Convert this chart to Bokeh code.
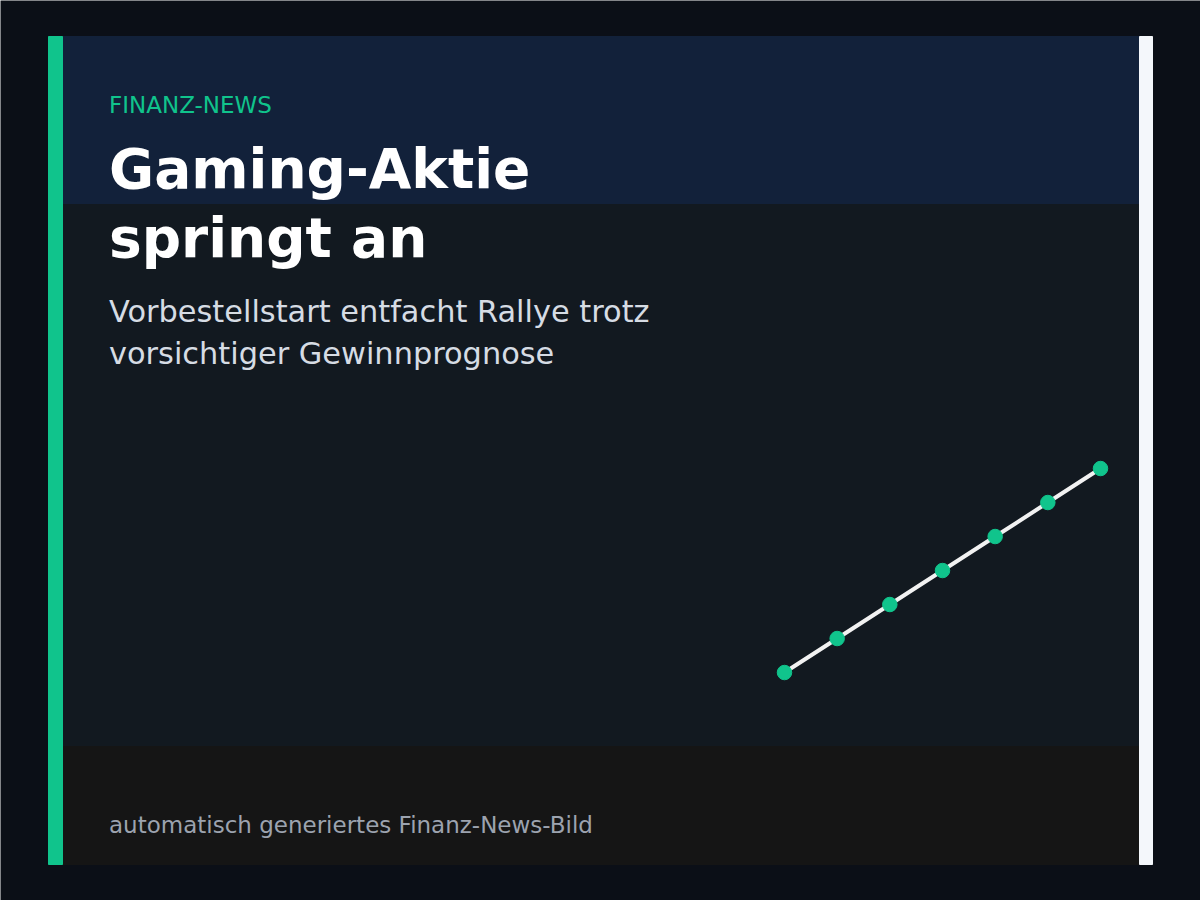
from bokeh.plotting import figure
from bokeh.models import Range1d, Label
from bokeh.embed import file_html
from bokeh.resources import INLINE

# Kursverlauf (Handelstage / Schlusskurs)
tage = [1, 2, 3, 4, 5, 6, 7]
kurs = [100, 102, 104, 106, 108, 110, 112]

kicker = "FINANZ-NEWS"
titel = ["Gaming-Aktie", "springt an"]
untertitel = ["Vorbestellstart entfacht Rallye trotz", "vorsichtiger Gewinnprognose"]
fusszeile = "automatisch generiertes Finanz-News-Bild"

BG = "#0b0f17"
GREEN = "#10c48c"

W, H = 1200, 900

# page pixels, y flipped so it grows downward like the screen
p = figure(width=W, height=H, output_backend="svg", toolbar_location=None,
           x_range=Range1d(0, W), y_range=Range1d(H, 0),
           min_border=0, background_fill_color=BG, border_fill_color=BG)
p.axis.visible = False
p.grid.visible = False
p.outline_line_color = None

# card panels
p.quad(left=48, right=1152, top=36, bottom=864, color="#121920")
p.quad(left=62, right=1139, top=36, bottom=203, color="#12213a")
p.quad(left=62, right=1139, top=746, bottom=864, color="#151515")
p.quad(left=48, right=62, top=36, bottom=864, color=GREEN)
p.quad(left=1139, right=1152, top=36, bottom=864, color="#f4f7fb")

# mini chart in its own ranges
p.extra_x_ranges["tag"] = Range1d(-13.886, 8.899)
p.extra_y_ranges["kurs"] = Range1d(86.59, 139.53)
p.line(tage, kurs, x_range_name="tag", y_range_name="kurs",
       line_color="#f2f2f2", line_width=4)
p.scatter(tage, kurs, x_range_name="tag", y_range_name="kurs",
          size=14.5, color=GREEN)

FONT = "DejaVu Sans"

def label(txt, base, size, color, style="normal"):
    # baseline lands ~0.39em below y on this flipped range
    p.add_layout(Label(x=108.5, y=base - 0.39 * size, text=txt, text_font=FONT,
                       text_font_size="%.1fpx" % size, text_color=color,
                       text_font_style=style, text_baseline="alphabetic"))

label(kicker, 113, 23, GREEN)
label(titel[0], 190, 55, "#ffffff", "bold")
label(titel[1], 259, 55, "#ffffff", "bold")
label(untertitel[0], 323, 30.4, "#d6dce4")
label(untertitel[1], 365, 30.4, "#d6dce4")
label(fusszeile, 833, 23, "#9ca3af")

html = file_html(p, INLINE)
html = html.replace("<body>", '<body style="background-color:%s;">' % BG, 1)
open("out.html", "w").write(html)
